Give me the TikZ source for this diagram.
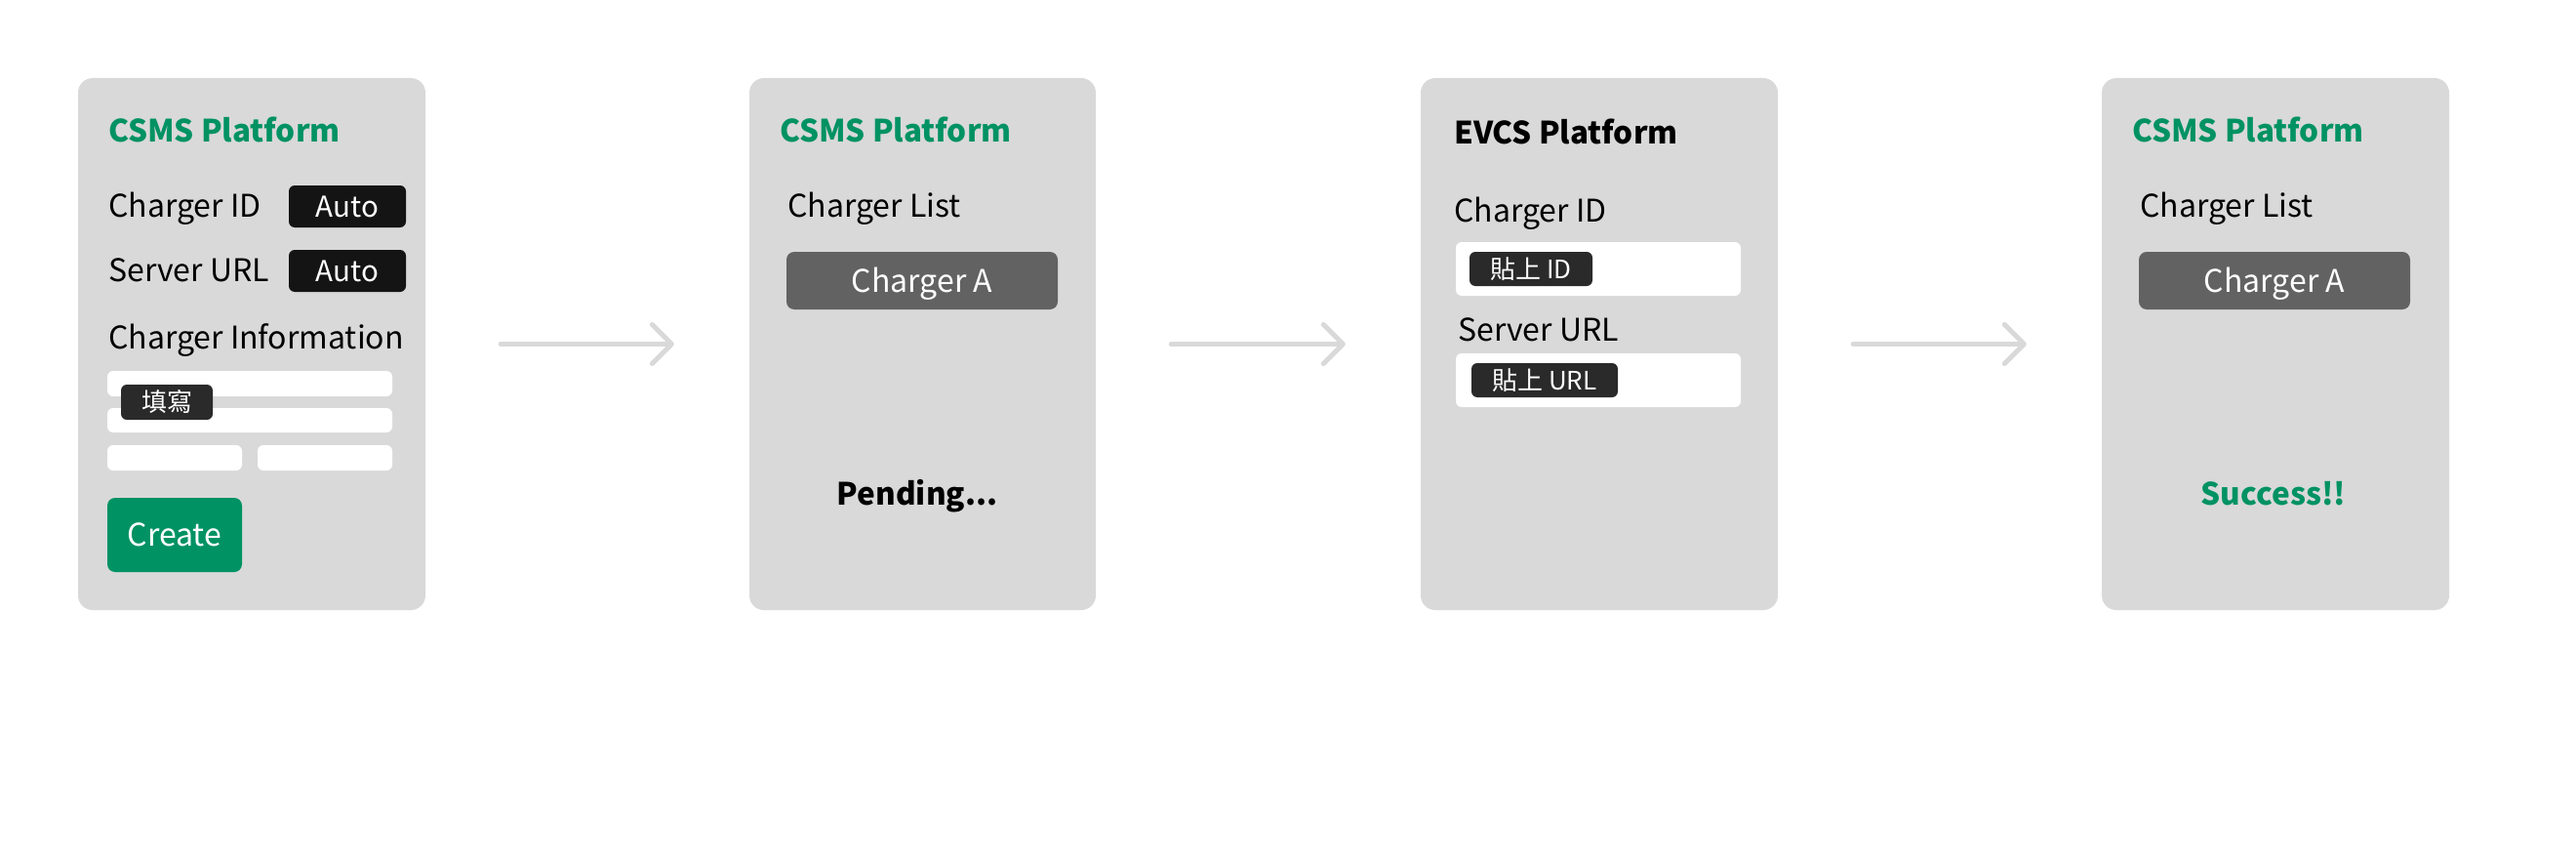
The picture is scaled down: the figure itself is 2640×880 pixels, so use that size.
\documentclass[tikz,border=0pt]{standalone}
\usepackage{fontspec}
\setmainfont{Noto Sans CJK TC}
\usetikzlibrary{arrows.meta}
\definecolor{panelgray}{HTML}{D9D9D9}
\definecolor{brandgreen}{RGB}{0,146,99}
\definecolor{autoblack}{HTML}{141414}
\definecolor{tagdark}{HTML}{2A2A2A}
\definecolor{listgray}{HTML}{626262}
\tikzset{
  panel/.style={fill=panelgray, rounded corners=15pt, inner sep=0pt, minimum height=545pt},
  title/.style={anchor=base west, inner sep=0pt, font=\fontsize{31.5}{36}\selectfont\bfseries},
  label/.style={anchor=base west, inner sep=0pt, font=\fontsize{32}{36}\selectfont},
  autobox/.style={fill=autoblack, text=white, rounded corners=6pt, inner sep=0pt,
    minimum width=120pt, minimum height=43pt, text height=21pt, text depth=0pt,
    font=\fontsize{29.5}{32}\selectfont},
  bar/.style={fill=white, rounded corners=6pt, inner sep=0pt},
  tagbox/.style={fill=tagdark, text=white, rounded corners=6pt, inner sep=0pt,
    minimum height=36pt, text height=19pt, text depth=0pt, font=\fontsize{26}{28}\selectfont},
  listbox/.style={fill=listgray, text=white, rounded corners=8pt, inner sep=0pt,
    minimum width=278pt, minimum height=59pt, text height=23pt, text depth=0pt,
    font=\fontsize{32}{36}\selectfont},
  status/.style={anchor=base, inner sep=0pt, font=\fontsize{31.5}{36}\selectfont\bfseries},
  flow/.style={draw=panelgray, line width=5pt, line cap=round, shorten <=77pt, shorten >=77pt,
    -{Straight Barb[length=20pt,width=40pt,round]}}
}
\begin{document}
\begin{tikzpicture}[x=1pt,y=-1pt]
\fill[white] (0,0) rectangle (2640,880);
\useasboundingbox (0,0) rectangle (2640,880);

% panels
\node[panel, minimum width=356pt] (p1) at (258,352.5) {};
\node[panel, minimum width=355pt] (p2) at (945.5,352.5) {};
\node[panel, minimum width=366pt] (p3) at (1639,352.5) {};
\node[panel, minimum width=356pt] (p4) at (2332,352.5) {};

% panel 1
\node[title, text=brandgreen] (t1) at (111,146) {CSMS Platform};
\node[label] (cid1) at (111,222) {Charger ID};
\node[autobox] (auto1) at (356,211.5) {Auto};
\node[label] (url1) at (111,288) {Server URL};
\node[autobox] (auto2) at (356,277.5) {Auto};
\node[label] (info1) at (111,357) {Charger Information};
\node[bar, minimum width=292pt, minimum height=26pt] (bar1) at (256,393) {};
\node[bar, minimum width=292pt, minimum height=25pt] (bar2) at (256,430.5) {};
\node[bar, minimum width=138pt, minimum height=26pt] (bar3) at (179,469) {};
\node[bar, minimum width=138pt, minimum height=26pt] (bar4) at (333,469) {};
\node[tagbox, minimum width=94pt] (fill1) at (171,412) {填寫};
\node[fill=brandgreen, text=white, rounded corners=8pt, inner sep=0pt,
  minimum width=138pt, minimum height=76pt, text height=23pt, text depth=0pt,
  font=\fontsize{32}{36}\selectfont] (create) at (179,548) {Create};

% panel 2
\node[title, text=brandgreen] (t2) at (799,146) {CSMS Platform};
\node[label] (list2) at (807,222) {Charger List};
\node[listbox] (ca2) at (945,287.5) {Charger A};
\node[status] (pend) at (940,517) {Pending...};

% panel 3
\node[title] (t3) at (1490,148) {EVCS Platform};
\node[label] (cid3) at (1490,227) {Charger ID};
\node[bar, minimum width=292pt, minimum height=55pt] (f1) at (1638,275.5) {};
\node[tagbox, minimum width=126pt, minimum height=35pt] (tag1) at (1569,275.5) {貼上 ID};
\node[label] (url3) at (1494,349) {Server URL};
\node[bar, minimum width=292pt, minimum height=55pt] (f2) at (1638,389.5) {};
\node[tagbox, minimum width=150pt, minimum height=35pt] (tag2) at (1583,389.5) {貼上 URL};

% panel 4
\node[title, text=brandgreen] (t4) at (2185,146) {CSMS Platform};
\node[label] (list4) at (2193,222) {Charger List};
\node[listbox] (ca4) at (2331,287.5) {Charger A};
\node[status, text=brandgreen] (succ) at (2330,517) {Success!!};

% arrows
\draw[flow] (p1.east) -- (p2.west);
\draw[flow] (p2.east) -- (p3.west);
\draw[flow] (p3.east) -- (p4.west);
\end{tikzpicture}
\end{document}
